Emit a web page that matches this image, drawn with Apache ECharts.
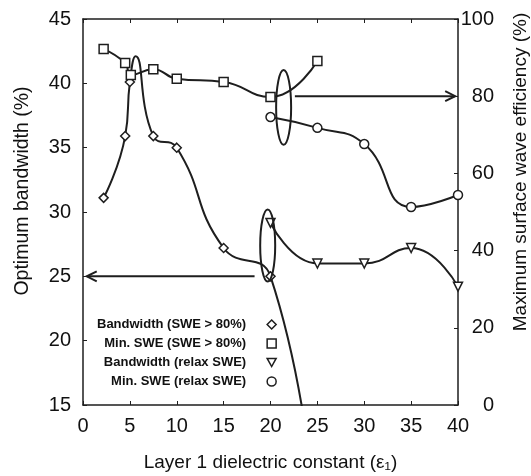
<!DOCTYPE html>
<html><head><meta charset="utf-8">
<script src="https://cdn.jsdelivr.net/npm/echarts@6/dist/echarts.min.js"></script>
<style>html,body{margin:0;padding:0;background:#fff}#c{width:531px;height:476px}</style>
</head><body><div id="c"></div>
<script>
// ---- data ----
const seriesNames = ['Bandwidth (SWE > 80%)', 'Min. SWE (SWE > 80%)', 'Bandwidth (relax SWE)', 'Min. SWE (relax SWE)'];
const xTicks = [0, 5, 10, 15, 20, 25, 30, 35, 40];
const leftTicks = [15, 20, 25, 30, 35, 40, 45];
const rightTicks = [0, 20, 40, 60, 80, 100];

// Bandwidth (SWE > 80%)  -- left axis (index 3 is the unmarked peak of the curve, last point lies below the plot)
const bwHighX = [2.2, 4.5, 5.0, 5.6, 7.5, 10, 15, 20, 25];
const bwHighY = [31.1, 35.9, 40.1, 42.1, 35.9, 35.0, 27.2, 25.0, 5];
const bwHighUnmarked = [3];
// Min. SWE (SWE > 80%) -- right axis
const swHighX = [2.2, 4.5, 5.1, 7.5, 10, 15, 20, 25];
const swHighY = [92.2, 88.6, 85.5, 87.0, 84.5, 83.7, 79.8, 89.1];
// Bandwidth (relax SWE) -- left axis
const bwRelaxX = [20, 25, 30, 35, 40];
const bwRelaxY = [29.15, 26.0, 26.0, 27.2, 24.2];
// Min. SWE (relax SWE) -- right axis
const swRelaxX = [20, 25, 30, 35, 40];
const swRelaxY = [74.6, 71.8, 67.6, 51.3, 54.4];

// annotations (data coordinates)
const ellipses = [
  { axis: 0, x: 19.7, yLow: 24.6, yHigh: 30.2 },
  { axis: 1, x: 21.4, yLow: 67.4, yHigh: 86.8 }
];
const arrows = [
  { axis: 0, from: 18.3, to: 0.4, y: 25 },
  { axis: 1, from: 22.6, to: 39.7, y: 80 }
];

// ---- chart ----
const FONT = '"Liberation Sans", Arial, sans-serif';
const INK = '#1e1e1e';
const chart = echarts.init(document.getElementById('c'), null, { renderer: 'canvas' });

function pts(xs, ys, unmarked) {
  return xs.map((x, i) => (unmarked && unmarked.indexOf(i) >= 0)
    ? { value: [x, ys[i]], symbol: 'none' } : [x, ys[i]]);
}
function mk(name, data, yIdx, symbol, rotate) {
  return {
    name, type: 'line', data, yAxisIndex: yIdx, smooth: 0.5,
    symbol, symbolSize: 9, symbolRotate: rotate || 0, showAllSymbol: true, clip: true,
    lineStyle: { color: INK, width: 2 },
    itemStyle: { color: '#fff', borderColor: INK, borderWidth: 1.5 },
    emphasis: { disabled: true }, z: 3
  };
}
const axisLine = { show: true, onZero: false, lineStyle: { color: INK, width: 1.5 } };
const tick = { show: true, inside: true, length: 4, lineStyle: { color: INK, width: 1 } };
const lbl = { fontFamily: FONT, fontSize: 20, color: '#111' };

chart.setOption({
  animation: false,
  backgroundColor: '#fff',
  grid: { left: 83, right: 73, top: 19, bottom: 71, containLabel: false, outerBoundsMode: 'none' },
  legend: {
    orient: 'vertical', left: 97, top: 318, padding: 0, itemGap: 6,
    itemWidth: 9, itemHeight: 9, align: 'right', selectedMode: false,
    itemStyle: { color: '#fff', borderColor: INK, borderWidth: 1.5 },
    textStyle: { fontFamily: FONT, fontSize: 13, fontWeight: 'bold', color: '#111', width: 150, align: 'right', padding: [0, 16, 0, 0] },
    data: [
      { name: seriesNames[0], icon: 'diamond' },
      { name: seriesNames[1], icon: 'rect' },
      { name: seriesNames[2], icon: 'path://M0,0L10,0L5,9Z' },
      { name: seriesNames[3], icon: 'circle' }
    ]
  },
  xAxis: [
    { type: 'value', min: xTicks[0], max: xTicks[xTicks.length - 1], interval: xTicks[1] - xTicks[0], position: 'bottom',
      axisLine, axisTick: tick, axisLabel: Object.assign({ margin: 11 }, lbl), splitLine: { show: false },
      name: 'Layer 1 dielectric constant (ε\u2081)', nameLocation: 'middle', nameGap: 48,
      nameTextStyle: { fontFamily: FONT, fontSize: 19, color: '#111' } },
    { type: 'value', min: xTicks[0], max: xTicks[xTicks.length - 1], interval: xTicks[1] - xTicks[0], position: 'top',
      axisLine, axisTick: tick, axisLabel: { show: false }, splitLine: { show: false } }
  ],
  yAxis: [
    { type: 'value', min: leftTicks[0], max: leftTicks[leftTicks.length - 1], interval: leftTicks[1] - leftTicks[0], position: 'left',
      axisLine, axisTick: tick, axisLabel: Object.assign({ margin: 12 }, lbl), splitLine: { show: false },
      name: 'Optimum bandwidth (%)', nameLocation: 'middle', nameRotate: 90, nameGap: 50,
      nameTextStyle: { fontFamily: FONT, fontSize: 19.5, color: '#111', padding: [0, 0, 0, 42] } },
    { type: 'value', min: rightTicks[0], max: rightTicks[rightTicks.length - 1], interval: rightTicks[1] - rightTicks[0], position: 'right',
      axisLine, axisTick: tick, axisLabel: Object.assign({ margin: 36, align: 'right' }, lbl), splitLine: { show: false },
      name: 'Maximum surface wave efficiency (%)', nameLocation: 'middle', nameRotate: 90, nameGap: 53,
      nameTextStyle: { fontFamily: FONT, fontSize: 19, color: '#111', padding: [0, 0, 0, 80] } }
  ],
  series: [
    mk(seriesNames[0], pts(bwHighX, bwHighY, bwHighUnmarked), 0, 'diamond'),
    mk(seriesNames[1], pts(swHighX, swHighY), 1, 'rect'),
    mk(seriesNames[2], pts(bwRelaxX, bwRelaxY), 0, 'triangle', 180),
    mk(seriesNames[3], pts(swRelaxX, swRelaxY), 1, 'circle')
  ]
});

// annotations positioned through the axes
function px(axis, x, y) { return chart.convertToPixel({ xAxisIndex: 0, yAxisIndex: axis }, [x, y]); }
const stroke = { fill: null, stroke: INK, lineWidth: 2 };
const graphics = [];
ellipses.forEach(e => {
  const a = px(e.axis, e.x, e.yLow), b = px(e.axis, e.x, e.yHigh);
  graphics.push({ type: 'ellipse', shape: { cx: a[0], cy: (a[1] + b[1]) / 2, rx: 7.5, ry: Math.abs(a[1] - b[1]) / 2 }, style: stroke, z: 10 });
});
arrows.forEach(ar => {
  const p0 = px(ar.axis, ar.from, ar.y), p1 = px(ar.axis, ar.to, ar.y);
  const dir = p1[0] > p0[0] ? 1 : -1;
  graphics.push({ type: 'line', shape: { x1: p0[0], y1: p0[1], x2: p1[0], y2: p1[1] }, style: stroke, z: 10 });
  graphics.push({ type: 'polyline', shape: { points: [[p1[0] - dir * 10, p1[1] - 5], [p1[0], p1[1]], [p1[0] - dir * 10, p1[1] + 5]] }, style: stroke, z: 10 });
});
chart.setOption({ graphic: graphics });
</script>
</body></html>
